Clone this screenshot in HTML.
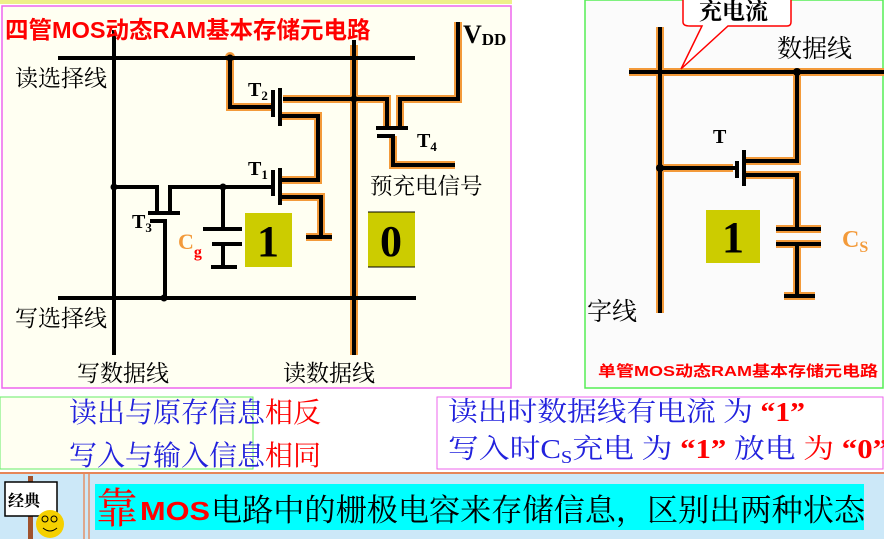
<!DOCTYPE html>
<html><head><meta charset="utf-8"><style>
html,body{margin:0;padding:0;width:884px;height:539px;overflow:hidden;background:#fff}
svg{display:block}
text{font-family:"Liberation Serif","Noto Serif CJK SC",serif}
.s{font-family:"Liberation Sans","Noto Sans CJK SC",sans-serif}
</style></head><body>
<svg width="884" height="539" viewBox="0 0 884 539" xmlns="http://www.w3.org/2000/svg">
<rect x="0" y="0" width="884" height="539" fill="#fff"/>
<rect x="0" y="0" width="512" height="4" fill="#eef08a"/>
<rect x="2" y="6" width="509" height="382" fill="#fffff2" stroke="#ee66ee" stroke-width="1.5"/>
<rect x="585" y="0" width="298" height="388" fill="#fbfbfb" stroke="#55ee55" stroke-width="1.5"/>

<g fill="none" stroke-linecap="butt" stroke-linejoin="miter">
<g stroke="#f39a3a" stroke-width="8">
 <path d="M230 58 V107 H272"/>
 <path d="M354 45 V355"/>
 <path d="M283 99 H387 V128"/>
 <path d="M458 22 V99 H400 V128"/>
 <path d="M393 136 V165 H455"/>
 <path d="M280 116 H318 V180 H280"/>
 <path d="M280 197 H321 V237"/>
 <path d="M306 237 H332"/>
</g>
<circle cx="230" cy="57" r="5" fill="#f39a3a" stroke="none"/>
<g stroke="#000" stroke-width="4">
 <path d="M58 58 H415"/>
 <path d="M114 30 V355"/>
 <path d="M354 40 V355"/>
 <path d="M58 298 H416"/>
 <path d="M230 58 V107 H272"/>
 <path d="M283 99 H387 V128"/>
 <path d="M458 22 V99 H400 V128"/>
 <path d="M376 128 H408"/>
 <path d="M377 136 H393 V165 H455"/>
 <path d="M273 90 V117"/>
 <path d="M280 88 V126"/>
 <path d="M280 116 H318 V180 H280"/>
 <path d="M273 170 V196"/>
 <path d="M280 168 V205"/>
 <path d="M280 197 H321 V237"/>
 <path d="M306 237 H332"/>
 <path d="M114 187 H157 V213"/>
 <path d="M148 213 H180"/>
 <path d="M150 221 H165 V298"/>
 <path d="M170 213 V187 H272"/>
 <path d="M223 187 V229"/>
 <path d="M203 229 H242"/>
 <path d="M212 244 H242"/>
 <path d="M223 244 V267"/>
 <path d="M211 267 H237"/>
</g>
</g>
<g fill="#000">
<circle cx="230" cy="58" r="3.5"/><circle cx="114" cy="187" r="3.5"/><circle cx="223" cy="187" r="3.5"/><circle cx="164" cy="298" r="3.5"/><circle cx="354" cy="99" r="3.5"/>
</g>
<rect x="245" y="213" width="47" height="54" fill="#cccc00"/>
<rect x="368" y="212" width="47" height="55" fill="#cccc00"/>
<line x1="368" y1="212" x2="415" y2="212" stroke="#000" stroke-width="1"/>
<line x1="368" y1="267" x2="415" y2="267" stroke="#000" stroke-width="1"/>
<text x="268" y="256" font-size="44" font-weight="bold" text-anchor="middle">1</text>
<text x="391" y="256" font-size="44" font-weight="bold" text-anchor="middle">0</text>

<text x="5" y="38" font-size="23.5" fill="#f00" class="s" font-weight="bold">四管MOS动态RAM基本存储元电路</text>
<text x="463" y="43" font-size="26" font-weight="bold">V<tspan font-size="17" dy="2">DD</tspan></text>
<text x="15" y="86" font-size="23">读选择线</text>
<text x="15" y="326" font-size="23">写选择线</text>
<text x="77" y="381" font-size="23">写数据线</text>
<text x="283" y="381" font-size="23">读数据线</text>
<text x="370" y="194" font-size="22.5">预充电信号</text>
<text x="248" y="96" font-size="20" font-weight="bold">T<tspan font-size="13" dy="4">2</tspan></text>
<text x="248" y="175" font-size="20" font-weight="bold">T<tspan font-size="13" dy="4">1</tspan></text>
<text x="132" y="228" font-size="20" font-weight="bold">T<tspan font-size="13" dy="4">3</tspan></text>
<text x="417" y="147" font-size="20" font-weight="bold">T<tspan font-size="13" dy="4">4</tspan></text>
<text x="178" y="249" font-size="22" font-weight="bold" fill="#f39a3a">C<tspan font-size="16" dy="8" fill="#f00">g</tspan></text>

<g fill="none">
<g stroke="#f39a3a" stroke-width="8">
 <path d="M629 72 H884"/><path d="M660 27 V313"/>
 <path d="M797 72 V161 H744"/><path d="M744 175 H797 V229"/>
 <path d="M660 168 H733"/><path d="M776 229 H821"/><path d="M776 244 H821"/><path d="M797 244 V296"/><path d="M784 296 H815"/>
</g>
<g stroke="#000" stroke-width="4">
 <path d="M629 72 H884"/><path d="M660 27 V313"/>
 <path d="M797 72 V161 H744"/><path d="M744 175 H797 V229"/>
 <path d="M660 168 H735"/><path d="M737 161 V178"/><path d="M744 150 V186"/>
 <path d="M776 229 H821"/><path d="M776 244 H821"/><path d="M797 244 V296"/><path d="M784 296 H815"/>
</g>
</g>
<circle cx="797" cy="72" r="4" fill="#000"/><circle cx="660" cy="168" r="4" fill="#000"/>
<rect x="706" y="210" width="54" height="53" fill="#cccc00"/>
<text x="733" y="252" font-size="44" font-weight="bold" text-anchor="middle">1</text>
<text x="842" y="247" font-size="24" font-weight="bold" fill="#f39a3a">C<tspan font-size="16" dy="5">S</tspan></text>
<text x="713" y="143" font-size="20" font-weight="bold">T</text>
<text x="777" y="57" font-size="25">数据线</text>
<text x="587" y="320" font-size="25">字线</text>
<text x="598" y="376" font-size="15" fill="#f00" font-weight="bold" class="s" textLength="280" lengthAdjust="spacingAndGlyphs">单管MOS动态RAM基本存储元电路</text>
<path d="M690 -6 H787 Q791 -6 791 -2 V22 Q791 26 787 26 H728 L681 69 L702 26 H690 Q683 26 683 22 V-2 Z" fill="#fff" stroke="#f00" stroke-width="1.5"/>
<text x="699" y="19" font-size="23" font-weight="bold">充电流</text>

<rect x="0" y="397" width="253" height="72" fill="#fffff2" stroke="#66ee66" stroke-width="1"/>
<text x="69" y="422" font-size="28" fill="#22d">读出与原存信息<tspan fill="#f00">相反</tspan></text>
<text x="69" y="465" font-size="28" fill="#22d">写入与输入信息<tspan fill="#f00">相同</tspan></text>
<rect x="437" y="397" width="446" height="72" fill="#fff" stroke="#ee66ee" stroke-width="1"/>
<text x="448" y="421" font-size="27" fill="#22d" textLength="357" lengthAdjust="spacingAndGlyphs">读出时数据线有电流 为 <tspan fill="#f00" font-weight="bold">“1”</tspan></text>
<text x="448" y="458" font-size="27" fill="#22d" textLength="440" lengthAdjust="spacingAndGlyphs">写入时C<tspan font-size="18" dy="5">S</tspan><tspan dy="-5">充电 为 </tspan><tspan fill="#f00" font-weight="bold">“1”</tspan> 放电 <tspan fill="#f00">为 </tspan><tspan fill="#f00" font-weight="bold">“0”</tspan></text>

<rect x="0" y="472" width="884" height="67" fill="#cce8f8"/>
<line x1="0" y1="473" x2="884" y2="473" stroke="#ee6622" stroke-width="1.5"/>
<line x1="84" y1="474" x2="84" y2="539" stroke="#ee6622" stroke-width="1"/>
<line x1="89" y1="474" x2="89" y2="539" stroke="#ee6622" stroke-width="1"/>
<rect x="28" y="476" width="5" height="63" fill="#a0522d"/>
<rect x="5" y="482" width="52" height="34" fill="#fff" stroke="#000" stroke-width="1.5"/>
<text x="8" y="506" font-size="16" font-weight="bold">经典</text>
<circle cx="50" cy="524" r="14" fill="#f5d000"/>
<circle cx="45" cy="519" r="3" fill="none" stroke="#000"/><circle cx="54" cy="519" r="3" fill="none" stroke="#000"/>
<path d="M43 528 Q50 534 57 528" fill="none" stroke="#000"/>
<rect x="95" y="484" width="769" height="46" fill="#00ffff"/>
<text x="96" y="523" font-size="42" fill="#f00">靠</text>
<text x="140" y="520" font-size="26" fill="#f00" font-weight="bold" class="s" textLength="70" lengthAdjust="spacingAndGlyphs">MOS</text>
<text x="211" y="521" font-size="31" textLength="654" lengthAdjust="spacingAndGlyphs">电路中的栅极电容来存储信息，区别出两种状态</text>
</svg>
</body></html>
